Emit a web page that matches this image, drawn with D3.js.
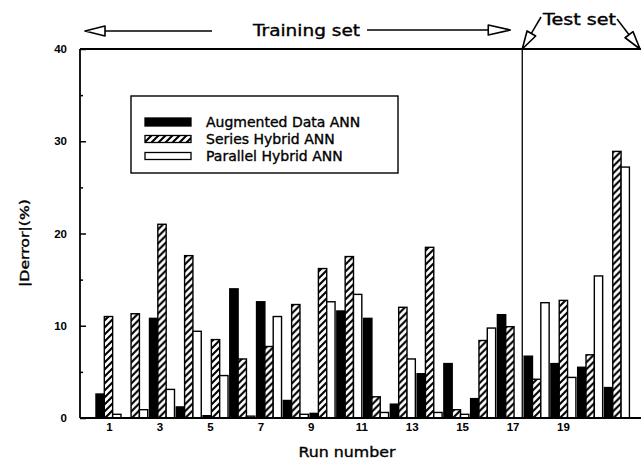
<!DOCTYPE html>
<html>
<head>
<meta charset="utf-8">
<script src="https://cdn.jsdelivr.net/npm/d3@7"></script>
<style>
  html, body { margin: 0; padding: 0; background: #fff; }
  svg { display: block; }
  text { fill: #000; }
  .heavy { stroke: #000; stroke-width: 0.35px; }
</style>
</head>
<body>
<svg id="chart" width="641" height="463"></svg>
<script>
// ---- data ----
const runs = [1,2,3,4,5,6,7,8,9,10,11,12,13,14,15,16,17,18,19,20];
const seriesNames = ["Augmented Data ANN", "Series Hybrid ANN", "Parallel Hybrid ANN"];
const augmented = [2.6, 0.0, 10.8, 1.2, 0.25, 14.0, 12.6, 1.9, 0.5, 11.6, 10.8, 1.5, 4.8, 5.9, 2.1, 11.2, 6.7, 5.9, 5.5, 3.3];
const seriesHybrid = [11.0, 11.3, 21.0, 17.6, 8.5, 6.4, 7.75, 12.3, 16.2, 17.5, 2.3, 12.0, 18.5, 0.9, 8.4, 9.9, 4.2, 12.75, 6.85, 28.9];
const parallelHybrid = [0.4, 0.9, 3.1, 9.4, 4.6, 0.2, 11.0, 0.4, 12.6, 13.4, 0.6, 6.4, 0.6, 0.4, 9.75, 0.0, 12.5, 4.4, 15.4, 27.2];
const xTickLabels = [1,3,5,7,9,11,13,15,17,19];
const yMajorTicks = [0,10,20,30,40];
const yMinorTicks = [5,15,25,35];
const firstTestRun = 17;

const table = runs.map((r, i) => ({
  run: r,
  values: [augmented[i], seriesHybrid[i], parallelHybrid[i]]
}));

// ---- layout ----
const svg = d3.select("#chart");
const pLeft = 80, pTop = 49, pBottom = 418, pRight = 641;

const y = d3.scaleLinear().domain([0, 40]).range([pBottom, pTop]);
const x = d3.scaleBand().domain(runs).range([95.1, 630.3]).paddingInner(0.066).paddingOuter(0.033);
const xs = d3.scaleBand().domain([0,1,2]).range([0, x.bandwidth()]);
// tick-label positions (the original's labels sit on a slightly different spacing)
const xLab = d3.scaleLinear().domain([1, 19]).range([109, 563]);

// hatch pattern
const defs = svg.append("defs");
const pat = defs.append("pattern")
  .attr("id", "hatch").attr("patternUnits", "userSpaceOnUse")
  .attr("width", 7).attr("height", 7);
pat.append("rect").attr("width", 7).attr("height", 7).attr("fill", "#fff");
pat.append("path").attr("d", "M-1.5,1.5 l3,-3 M0,7 l7,-7 M5.5,8.5 l3,-3")
  .attr("stroke", "#000").attr("stroke-width", 2.1);

const fills = ["#000", "url(#hatch)", "#fff"];

// ---- bars ----
const groups = svg.append("g").selectAll("g").data(table).join("g")
  .attr("transform", d => `translate(${x(d.run)},0)`);
groups.selectAll("rect").data(d => d.values.map((v, k) => ({v, k})).filter(d => d.v > 0)).join("rect")
  .attr("x", d => xs(d.k))
  .attr("width", xs.bandwidth())
  .attr("y", d => y(d.v))
  .attr("height", d => y(0) - y(d.v))
  .attr("fill", d => fills[d.k])
  .attr("stroke", "#000")
  .attr("stroke-width", 1.4);

// ---- frame ----
const frame = svg.append("g").attr("stroke", "#000").attr("fill", "none");
frame.append("line").attr("x1", pLeft).attr("x2", pRight).attr("y1", pTop).attr("y2", pTop).attr("stroke-width", 1.8);
frame.append("line").attr("x1", pLeft).attr("x2", pLeft).attr("y1", pTop).attr("y2", pBottom).attr("stroke-width", 1.8);
frame.append("line").attr("x1", pLeft).attr("x2", pRight).attr("y1", pBottom).attr("y2", pBottom).attr("stroke-width", 1.8);
const divX = x(firstTestRun) - x.step() * x.paddingInner() / 2 - 1;
frame.append("line").attr("x1", divX).attr("x2", divX).attr("y1", pTop).attr("y2", pBottom).attr("stroke-width", 1.3);

// ---- y axis ----
const yAxis = svg.append("g").attr("transform", `translate(${pLeft},0)`)
  .call(d3.axisLeft(y).tickValues(yMajorTicks).tickSize(-6).tickPadding(13).tickFormat(d3.format("d")));
yAxis.select(".domain").remove();
yAxis.selectAll("line").attr("stroke-width", 1.5);
yAxis.selectAll("text").attr("font-family", "Liberation Sans, Arial, sans-serif")
  .attr("font-size", 11.5).attr("font-weight", "bold");
const yMinor = svg.append("g").attr("transform", `translate(${pLeft},0)`)
  .call(d3.axisLeft(y).tickValues(yMinorTicks).tickSize(-3).tickFormat(""));
yMinor.select(".domain").remove();
yMinor.selectAll("line").attr("stroke-width", 1.5);

// ---- x axis labels ----
const xAxis = svg.append("g").attr("transform", `translate(0,${pBottom})`)
  .call(d3.axisBottom(xLab).tickValues(xTickLabels).tickSize(0).tickPadding(5).tickFormat(d3.format("d")));
xAxis.select(".domain").remove();
xAxis.selectAll("text").attr("font-family", "Liberation Sans, Arial, sans-serif")
  .attr("font-size", 11.5).attr("font-weight", "bold");

// axis titles
svg.append("text").attr("class", "heavy").attr("x", 347).attr("y", 457).attr("text-anchor", "middle")
  .attr("font-family", "DejaVu Sans, sans-serif").attr("font-size", 14)
  .attr("textLength", 97).attr("lengthAdjust", "spacingAndGlyphs")
  .text("Run number");
svg.append("text").attr("class", "heavy").attr("transform", "translate(29,243) rotate(-90)").attr("text-anchor", "middle")
  .attr("font-family", "DejaVu Sans Condensed, DejaVu Sans, sans-serif").attr("font-size", 12)
  .attr("textLength", 88).attr("lengthAdjust", "spacingAndGlyphs")
  .text("|Derror|(%)");

// ---- legend ----
const lg = svg.append("g");
lg.append("rect").attr("x", 131).attr("y", 96).attr("width", 267).attr("height", 77)
  .attr("fill", "#fff").attr("stroke", "#000").attr("stroke-width", 1.4);
const rowsY = [122, 139, 156];
const swH = [8, 7, 7];
seriesNames.forEach((name, k) => {
  lg.append("rect").attr("x", 145).attr("y", rowsY[k] - swH[k] / 2).attr("width", 46).attr("height", swH[k])
    .attr("fill", fills[k]).attr("stroke", "#000").attr("stroke-width", 1.3);
  lg.append("text").attr("class", "heavy").attr("x", 206).attr("y", rowsY[k] + 5)
    .attr("font-family", "DejaVu Sans, sans-serif").attr("font-size", 14)
    .text(name);
});

// ---- annotations ----
function arrow(g, x1, y1, x2, y2, len, half) {
  const a = Math.atan2(y2 - y1, x2 - x1);
  const bx = x2 - len * Math.cos(a), by = y2 - len * Math.sin(a);
  const px = -Math.sin(a) * half, py = Math.cos(a) * half;
  g.append("line").attr("x1", x1).attr("y1", y1).attr("x2", bx).attr("y2", by)
    .attr("stroke", "#000").attr("stroke-width", 1.5);
  g.append("path").attr("d", `M${x2},${y2} L${bx + px},${by + py} L${bx - px},${by - py} Z`)
    .attr("fill", "#fff").attr("stroke", "#000").attr("stroke-width", 1.6).attr("stroke-linejoin", "round");
}
const ann = svg.append("g");
arrow(ann, 212, 31, 85, 31, 20, 5);
arrow(ann, 367, 30, divX - 12, 30, 22, 5);
ann.append("text").attr("class", "heavy").attr("x", 253).attr("y", 36)
  .attr("font-family", "DejaVu Sans, sans-serif").attr("font-size", 15)
  .attr("textLength", 107).attr("lengthAdjust", "spacingAndGlyphs")
  .text("Training set");
ann.append("text").attr("class", "heavy").attr("x", 543).attr("y", 25)
  .attr("font-family", "DejaVu Sans, sans-serif").attr("font-size", 15)
  .attr("textLength", 73).attr("lengthAdjust", "spacingAndGlyphs")
  .text("Test set");
arrow(ann, 541, 17, divX, pTop, 18, 5);
arrow(ann, 617, 19, 640, pTop, 18, 5);
</script>
</body>
</html>
